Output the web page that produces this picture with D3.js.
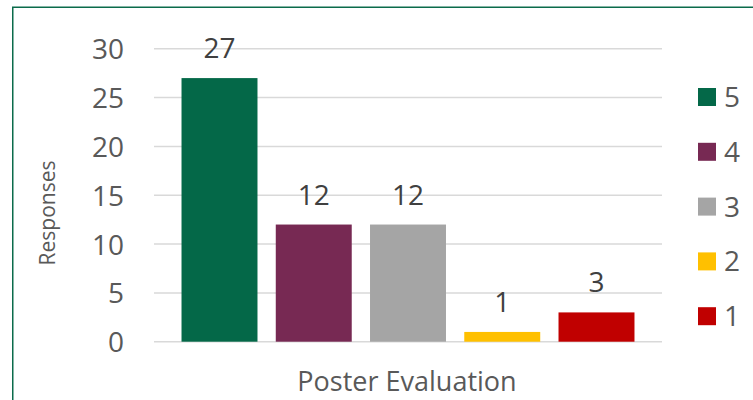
<!DOCTYPE html>
<html><head><meta charset="utf-8">
<script src="https://cdn.jsdelivr.net/npm/d3@7"></script>
<style>
html,body{margin:0;padding:0;background:#fff;}
text{font-family:"Open Sans",sans-serif;}
</style></head>
<body>
<svg id="chart" width="753" height="400"></svg>
<script>
const series = ["5", "4", "3", "2", "1"];
const values = [27, 12, 12, 1, 3];
const colors = ["#046848", "#772953", "#A5A5A5", "#FFC000", "#C00000"];
const yTicks = [0, 5, 10, 15, 20, 25, 30];
const categoryLabel = "Poster Evaluation";
const yTitle = "Responses";

const svg = d3.select("#chart");
svg.append("rect").attr("x", 12.75).attr("y", 7.25).attr("width", 800).attr("height", 500)
  .attr("fill", "#fff").attr("stroke", "#0B6B4B").attr("stroke-width", 1.5);

const plot = {left: 154, right: 662, top: 48.8, bottom: 341.7};
const y = d3.scaleLinear().domain([0, 30]).range([plot.bottom, plot.top]);
const x = d3.scaleBand().domain(series).range([plot.left, plot.right])
  .paddingInner(0.194).paddingOuter(0.292);

const grid = svg.append("g");
grid.selectAll("line").data(yTicks).join("line")
  .attr("x1", plot.left).attr("x2", plot.right)
  .attr("y1", d => y(d)).attr("y2", d => y(d))
  .attr("stroke", "#D9D9D9").attr("stroke-width", 1.5);

const yAxis = d3.axisLeft(y).tickValues(yTicks).tickSize(0).tickPadding(0);
const ya = svg.append("g").attr("transform", "translate(124,0)").call(yAxis);
ya.select(".domain").remove();
ya.selectAll("text").attr("font-size", 28).attr("fill", "#595959")
  .attr("font-family", "'Open Sans',sans-serif").attr("dy", "0.36em");

svg.append("g").selectAll("rect").data(series).join("rect")
  .attr("x", d => x(d)).attr("width", x.bandwidth())
  .attr("y", (d, i) => y(values[i])).attr("height", (d, i) => y(0) - y(values[i]))
  .attr("fill", (d, i) => colors[i]);

svg.append("g").selectAll("text").data(series).join("text")
  .attr("x", d => x(d) + x.bandwidth() / 2)
  .attr("y", (d, i) => y(values[i]) - 20)
  .attr("text-anchor", "middle").attr("font-size", 28).attr("fill", "#404040")
  .text((d, i) => values[i]);

const leg = svg.append("g").selectAll("g").data(series).join("g")
  .attr("transform", (d, i) => `translate(698,${97 + i * 54.8})`);
leg.append("rect").attr("x", 0).attr("y", -9).attr("width", 18).attr("height", 18)
  .attr("fill", (d, i) => colors[i]);
leg.append("text").attr("x", 26).attr("y", 0).attr("dy", "0.36em")
  .attr("font-size", 28).attr("fill", "#595959").text(d => d);

svg.append("text").attr("x", 407).attr("y", 391).attr("text-anchor", "middle")
  .attr("font-size", 27).attr("fill", "#595959").text(categoryLabel);

svg.append("text").attr("transform", "translate(55,213) rotate(-90)")
  .attr("text-anchor", "middle").attr("font-size", 21).attr("fill", "#595959").text(yTitle);
</script>
</body></html>
